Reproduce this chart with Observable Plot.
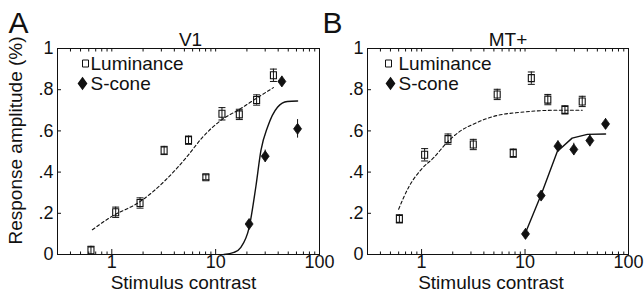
<!DOCTYPE html>
<html>
<head>
<meta charset="utf-8">
<script src="https://cdn.jsdelivr.net/npm/d3@7"></script>
<script src="https://cdn.jsdelivr.net/npm/@observablehq/plot@0.6"></script>
<style>
  html, body { margin: 0; padding: 0; background: #fff; }
  #wrap { display: flex; width: 644px; height: 297px; background: #fff; }
</style>
</head>
<body>
<div id="wrap"></div>
<script>
// ---------- data ----------
const yTicks = [0, 0.2, 0.4, 0.6, 0.8, 1];
const yTickLabels = ["0", ".2", ".4", ".6", ".8", "1"];
const xTicks = [1, 10, 100];
const xTickLabels = ["1", "10", "100"];
const xMinorTicks = [0.4, 0.5, 0.6, 0.7, 0.8, 0.9, 2, 3, 4, 5, 6, 7, 8, 9, 20, 30, 40, 50, 60, 70, 80, 90];

// Panel A: V1
const lumContrastA = [0.63, 1.09, 1.87, 3.19, 5.48, 8.05, 11.5, 16.9, 24.8, 36];
const lumRespA     = [0.02, 0.205, 0.25, 0.505, 0.555, 0.375, 0.683, 0.68, 0.75, 0.87];
const lumErrA      = [0.02, 0.025, 0.025, 0.02, 0.02, 0.012, 0.03, 0.025, 0.025, 0.03];
const sContrastA   = [21, 30, 43.4, 61.5];
const sRespA       = [0.148, 0.477, 0.84, 0.61];
const sErrA        = [0.02, 0.03, 0.025, 0.045];
const lumFitXA     = [0.65, 1.0, 1.85, 3.2, 5.2, 7.5, 11.5, 17, 25, 36];
const lumFitYA     = [0.12, 0.185, 0.255, 0.355, 0.47, 0.57, 0.655, 0.705, 0.76, 0.81];
const sFitXA       = [12, 15, 17.5, 21, 24.4, 27.3, 31.7, 39.4, 49, 61.5];
const sFitYA       = [0, 0.01, 0.035, 0.13, 0.33, 0.505, 0.62, 0.715, 0.743, 0.745];

// Panel B: MT+
const lumContrastB = [0.61, 1.07, 1.80, 3.16, 5.38, 7.69, 11.5, 16.6, 24.3, 35.7];
const lumRespB     = [0.173, 0.484, 0.56, 0.534, 0.777, 0.492, 0.856, 0.752, 0.702, 0.743];
const lumErrB      = [0.02, 0.03, 0.025, 0.025, 0.025, 0.02, 0.03, 0.025, 0.02, 0.025];
const sContrastB   = [10.1, 14.3, 20.8, 29.6, 42.3, 60];
const sRespB       = [0.10, 0.286, 0.526, 0.51, 0.553, 0.634];
const sErrB        = [0.025, 0.02, 0.025, 0.03, 0.03, 0.025];
const lumFitXB     = [0.6, 0.75, 0.98, 1.32, 1.77, 2.38, 3.2, 5.4, 9, 19, 35.7];
const lumFitYB     = [0.22, 0.327, 0.41, 0.472, 0.545, 0.60, 0.634, 0.675, 0.69, 0.70, 0.70];
const sFitXB       = [9.9, 14.3, 20.5, 28.5, 40, 60];
const sFitYB       = [0.095, 0.29, 0.50, 0.565, 0.583, 0.585];

const legendLabels = ["Luminance", "S-cone"];
const axisLabelX = "Stimulus contrast";
const axisLabelY = "Response amplitude (%)";

// ---------- symbols ----------
const squareSym = { draw(ctx) { ctx.rect(-3, -3.5, 6, 7); } };
const diamondSym = { draw(ctx) { ctx.moveTo(0, -5.5); ctx.lineTo(4, 0); ctx.lineTo(0, 5.5); ctx.lineTo(-4, 0); ctx.closePath(); } };
const capSym = { draw(ctx) { ctx.moveTo(-3.5, 0); ctx.lineTo(3.5, 0); } };

const FONT = "'Liberation Sans', Arial, Helvetica, sans-serif";

function pts(xs, ys, es) { return xs.map((x, i) => ({x, y: ys[i], e: es ? es[i] : 0})); }

function panel(o) {
  const lum = pts(o.lumX, o.lumY, o.lumE);
  const sc = pts(o.sX, o.sY, o.sE);
  const lumFit = pts(o.lumFitX, o.lumFitY);
  const sFit = pts(o.sFitX, o.sFitY);
  const marks = [
    Plot.frame({stroke: "#111", strokeWidth: 1}),
    Plot.axisY({ticks: yTicks, tickFormat: d => yTickLabels[yTicks.indexOf(d)], tickSize: -4, tickPadding: 8, label: null, fontSize: 18}),
    Plot.axisX({ticks: xTicks, tickFormat: d => xTickLabels[xTicks.indexOf(d)], tickSize: -5, tickPadding: 6, label: null, fontSize: 18}),
    Plot.axisX({ticks: xMinorTicks, tickFormat: () => "", tickSize: -2.5, label: null}),
    Plot.axisX({anchor: "top", ticks: xMinorTicks.concat(xTicks), tickFormat: () => "", tickSize: -2.5, label: null}),
    // fits
    Plot.line(lumFit, {x: "x", y: "y", stroke: "#111", strokeWidth: 1.1, strokeDasharray: "3,2.5", curve: "monotone-x"}),
    Plot.line(sFit, {x: "x", y: "y", stroke: "#111", strokeWidth: 1.4, curve: o.sCurve}),
    // error bars
    Plot.ruleX(lum, {x: "x", y1: d => d.y - d.e, y2: d => d.y + d.e, stroke: "#111", strokeWidth: 1}),
    Plot.dot(lum, {x: "x", y: d => d.y - d.e, symbol: capSym, stroke: "#111", fill: "none", strokeWidth: 1}),
    Plot.dot(lum, {x: "x", y: d => d.y + d.e, symbol: capSym, stroke: "#111", fill: "none", strokeWidth: 1}),
    Plot.ruleX(sc, {x: "x", y1: d => d.y - d.e, y2: d => d.y + d.e, stroke: "#111", strokeWidth: 1}),
    // points
    Plot.dot(lum, {x: "x", y: "y", symbol: squareSym, stroke: "#111", fill: "none", strokeWidth: 1.1}),
    Plot.dot(sc, {x: "x", y: "y", symbol: diamondSym, fill: "#111", stroke: "#111", strokeWidth: 0.8}),
    // legend
    Plot.dot([legendLabels[0]], {frameAnchor: "top-left", dx: o.legSqDx, dy: 15, symbol: squareSym, stroke: "#111", fill: "none", strokeWidth: 1}),
    Plot.dot([legendLabels[1]], {frameAnchor: "top-left", dx: o.legDiDx, dy: 35, symbol: diamondSym, fill: "#111", stroke: "#111"}),
    Plot.text([legendLabels[0]], {text: d => d, frameAnchor: "top-left", dx: o.legTxDx, dy: 15, textAnchor: "start", lineAnchor: "middle", fontSize: 19, fill: "#111"}),
    Plot.text([legendLabels[1]], {text: d => d, frameAnchor: "top-left", dx: o.legTxDx, dy: 35, textAnchor: "start", lineAnchor: "middle", fontSize: 19, fill: "#111"}),
    // title
    Plot.text([o.title], {text: d => d, frameAnchor: "top", dx: o.titleDx, dy: -3, lineAnchor: "bottom", fontSize: 19, fill: "#111"}),
    // panel letter
    Plot.text([o.letter], {text: d => d, frameAnchor: "top-left", dx: o.letterDx, dy: -16, textAnchor: "start", lineAnchor: "bottom", fontSize: 30, fill: "#111"}),
    // x label
    Plot.text([axisLabelX], {text: d => d, frameAnchor: "bottom", dx: o.xLabDx, dy: 34, lineAnchor: "bottom", fontSize: 19, fill: "#111"})
  ];
  if (o.showY) {
    marks.push(Plot.text([axisLabelY], {text: d => d, frameAnchor: "left", textAnchor: "middle", dx: -42, dy: -11, rotate: -90, lineAnchor: "middle", fontSize: 19, fill: "#111"}));
  }
  return Plot.plot({
    width: 322, height: 297,
    marginLeft: o.ml, marginRight: o.mr, marginTop: 48, marginBottom: 43,
    x: {type: "log", domain: [0.3, 100]},
    y: {domain: [0, 1]},
    style: {fontFamily: FONT, fontSize: "19px", background: "transparent", overflow: "visible", color: "#111"},
    marks
  });
}

const wrap = document.getElementById("wrap");
wrap.appendChild(panel({
  title: "V1", letter: "A", showY: true, ml: 57, mr: 3, titleDx: 2, letterDx: -49, xLabDx: -5,
  legSqDx: 28, legDiDx: 25, legTxDx: 33, sCurve: "monotone-x",
  lumX: lumContrastA, lumY: lumRespA, lumE: lumErrA, sX: sContrastA, sY: sRespA, sE: sErrA,
  lumFitX: lumFitXA, lumFitY: lumFitYA, sFitX: sFitXA, sFitY: sFitYA
}));
wrap.appendChild(panel({
  title: "MT+", letter: "B", showY: false, ml: 45, mr: 16, titleDx: 10, letterDx: -45, xLabDx: -7,
  legSqDx: 21, legDiDx: 23, legTxDx: 31, sCurve: "linear",
  lumX: lumContrastB, lumY: lumRespB, lumE: lumErrB, sX: sContrastB, sY: sRespB, sE: sErrB,
  lumFitX: lumFitXB, lumFitY: lumFitYB, sFitX: sFitXB, sFitY: sFitYB
}));
</script>
</body>
</html>
